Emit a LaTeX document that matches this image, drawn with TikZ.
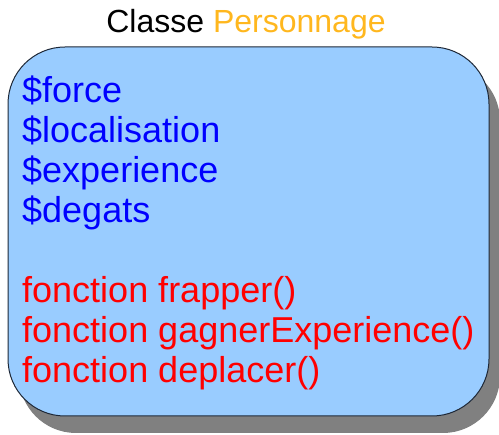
\documentclass[tikz,border=0pt]{standalone}
\usepackage{fontspec}
\setmainfont{Liberation Sans}
\definecolor{fondbleu}{RGB}{153,204,255}
\definecolor{ombre}{RGB}{128,128,128}
\definecolor{orangetitre}{RGB}{255,183,30}
\definecolor{bordure}{RGB}{30,40,55}

\begin{document}
\begin{tikzpicture}[x=1pt,y=-1pt,
	attribut/.style={anchor=base west,inner sep=0pt,text=blue,font=\fontsize{36}{40}\selectfont},
	methode/.style={attribut,text=red}]
	
	% cadre de l'image
	\useasboundingbox (0,0) rectangle (499,435);
	
	% titre
	\node (titre) [anchor=base,inner sep=0pt,font=\fontsize{32}{36}\selectfont]
	at (246,33) {Classe \textcolor{orangetitre}{Personnage}};
	
	% ombre puis boite de la classe
	\fill[ombre,rounded corners=57pt] (19,64) rectangle (500,433);
	\draw[bordure,line width=1pt,fill=fondbleu,rounded corners=57pt] (8,47) rectangle (489,416);
	
	% attributs
	\node (force) [attribut] at (22,103) {\$force};
	\node (localisation) [attribut] at (22,143) {\$localisation};
	\node (experience) [attribut] at (22,183) {\$experience};
	\node (degats) [attribut] at (22,223) {\$degats};
	
	% methodes
	\node (frapper) [methode] at (22,303) {fonction frapper()};
	\node (gagner) [methode] at (22,343) {fonction gagnerExperience()};
	\node (deplacer) [methode] at (22,383) {fonction deplacer()};
	
\end{tikzpicture}
\end{document}
